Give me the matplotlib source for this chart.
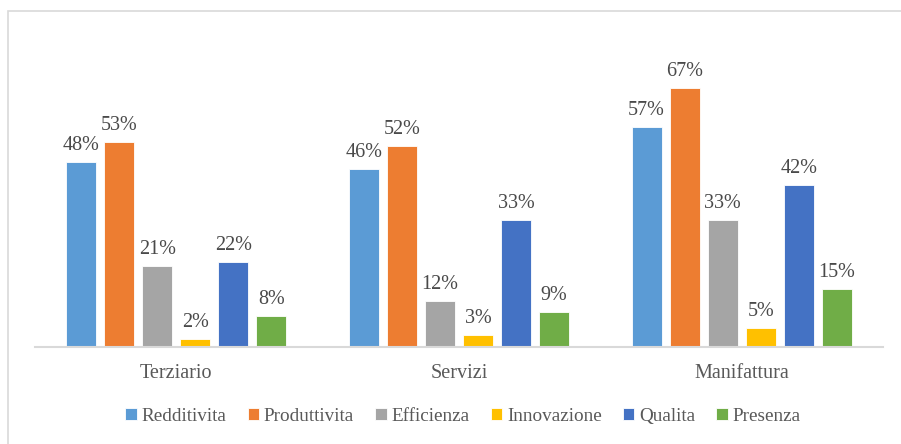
import matplotlib.pyplot as plt
import numpy as np
from matplotlib.patches import Rectangle

categories = ["Terziario", "Servizi", "Manifattura"]
series = ["Redditivita", "Produttivita", "Efficienza", "Innovazione", "Qualita", "Presenza"]
values = {
    "Redditivita": [48, 46, 57],
    "Produttivita": [53, 52, 67],
    "Efficienza": [21, 12, 33],
    "Innovazione": [2, 3, 5],
    "Qualita": [22, 33, 42],
    "Presenza": [8, 9, 15],
}
colors = ["#5B9BD5", "#ED7D31", "#A5A5A5", "#FFC000", "#4472C4", "#70AD47"]

plt.rcParams['font.family'] = ['Liberation Serif', 'DejaVu Serif']
txt = "#595959"

fig = plt.figure(figsize=(9.01, 4.44), dpi=100)
ax = fig.add_axes([35/901, 97/444, (883-35)/901, (406-97)/444])

x = np.arange(len(categories))
pitch = 38/282.5
width = 30/282.5
for i, s in enumerate(series):
    pos = x + (i - 2.5) * pitch
    bars = ax.bar(pos, values[s], width=width, color=colors[i], label=s,
                  edgecolor="white", linewidth=0.6)
    for b, v in zip(bars, values[s]):
        ax.annotate(f"{v}%", (b.get_x() + b.get_width()/2, v),
                    xytext=(0, 5), textcoords="offset points",
                    ha="center", va="bottom", fontsize=14.5, color="#4a4a4a")

ax.set_xlim(-0.5, 2.5)
ax.set_ylim(0, 80)
ax.set_yticks([])
ax.set_xticks(x)
ax.set_xticklabels(categories, fontsize=14.5, color=txt)
ax.tick_params(axis='x', length=0, pad=12)
for sp in ["top", "right", "left"]:
    ax.spines[sp].set_visible(False)
ax.spines["bottom"].set_color("#d9d9d9")
ax.spines["bottom"].set_linewidth(1.5)

leg = fig.legend(loc="center", bbox_to_anchor=(463/901, 1 - 416/444), ncol=6,
                 frameon=False, fontsize=13.8, handlelength=0.6, handleheight=0.6,
                 handletextpad=0.25, columnspacing=1.1)
for t in leg.get_texts():
    t.set_color(txt)

fig.patches.append(Rectangle((8/901, -0.1), 1.2, (444-11)/444 + 0.1,
                             transform=fig.transFigure, fill=False,
                             edgecolor="#d9d9d9", linewidth=1.2))

fig.savefig("out.png", dpi=100)
